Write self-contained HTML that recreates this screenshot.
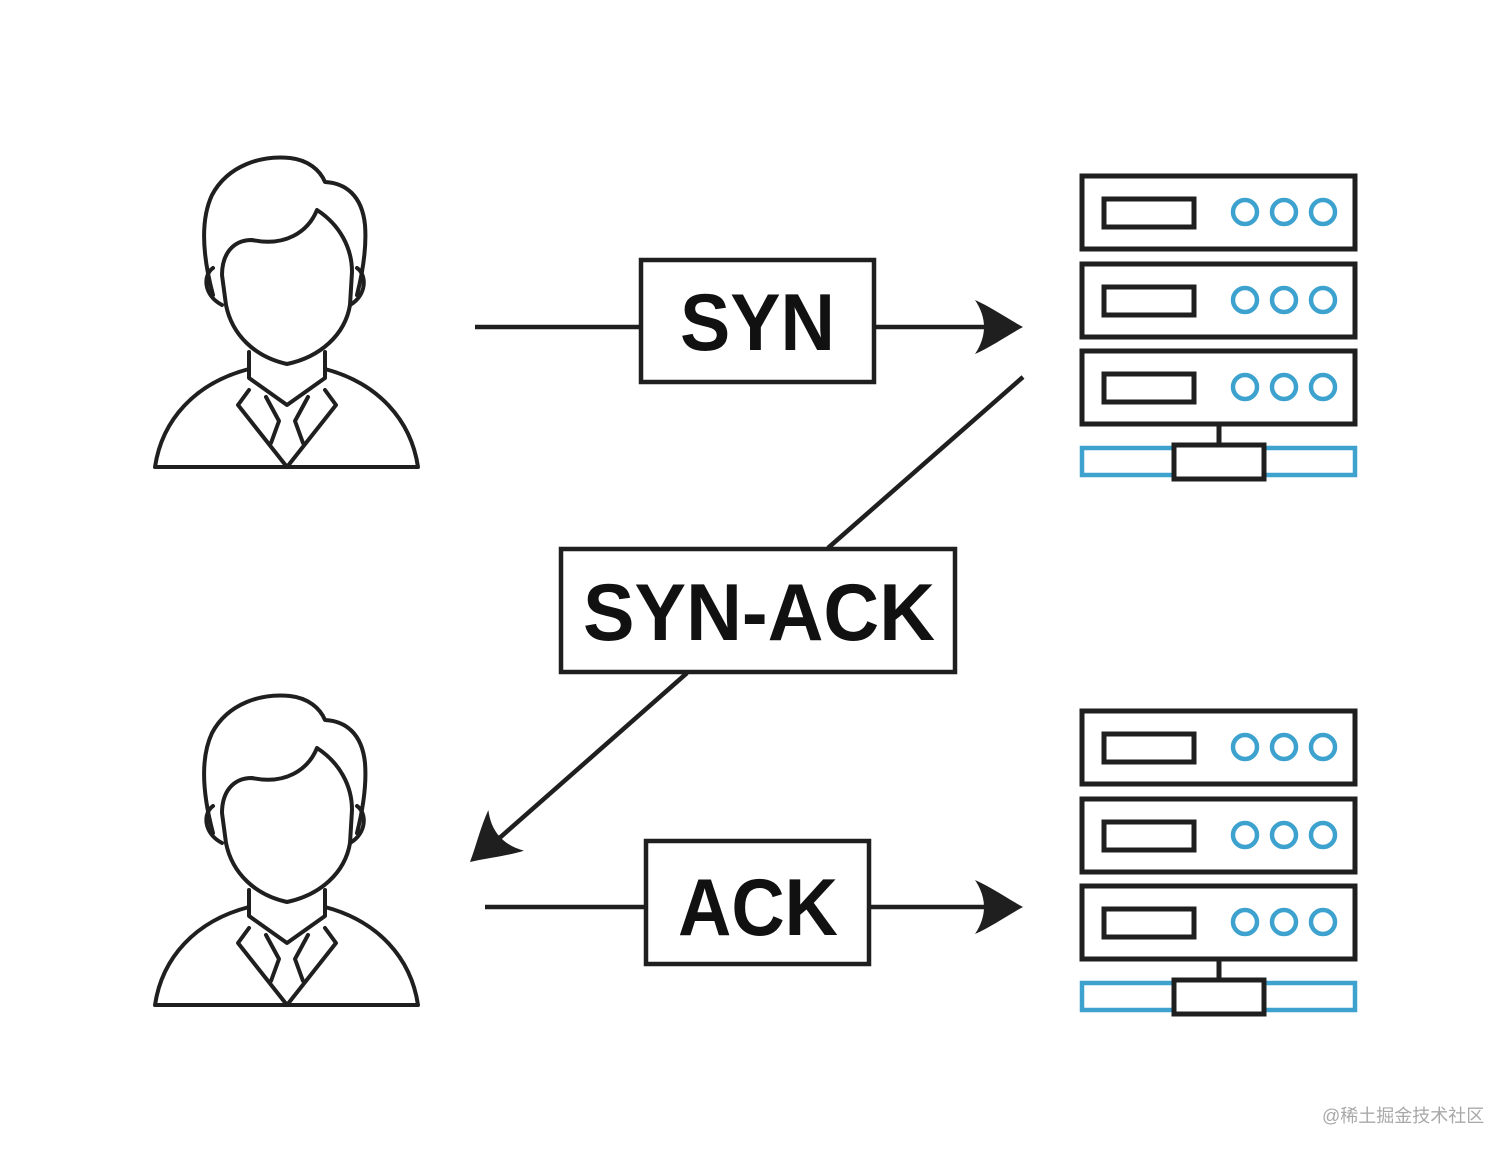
<!DOCTYPE html>
<html><head><meta charset="utf-8"><style>
html,body{margin:0;padding:0;background:#fff;}
svg{display:block;}
</style></head><body>
<svg width="1512" height="1155" viewBox="0 0 1512 1155" xmlns="http://www.w3.org/2000/svg">
<defs>
<g id="person" fill="none" stroke="#1f1f1f" stroke-width="4" stroke-linejoin="round" stroke-linecap="round">
  <!-- hair -->
  <path d="M213,295 C205,265 198,225 212,195 C228,165 262,155 290,158 C308,160 320,170 325,182 C345,183 362,195 365,225 C367,250 362,275 357,295"/>
  <!-- face -->
  <path d="M252,240 C285,247 308,232 317,210 C340,225 352,248 352,272 L350,305 C345,335 320,357 287,364 C255,357 232,335 226,305 L222,275 C222,255 232,240 252,240 Z" fill="#fff"/>
  <!-- ears -->
  <path d="M213,268 C203,275 203,295 222,305"/>
  <path d="M357,268 C367,275 367,295 350,305"/>
  <!-- neck -->
  <path d="M249,352 L249,378 L287,405 L325,378 L325,352"/>
  <!-- shoulders -->
  <path d="M249,369 C195,383 162,420 155,467 L418,467 C411,420 378,383 325,369"/>
  <!-- lapels -->
  <path d="M249,390 L238,405 L287,467 L336,405 L325,390"/>
  <!-- tie -->
  <path d="M266,397 L279,421 L271,443"/>
  <path d="M308,397 L295,421 L303,443"/>
</g>
<g id="server">
  <g fill="none" stroke="#1f1f1f" stroke-width="5">
    <rect x="1082" y="176" width="273" height="73"/>
    <rect x="1082" y="264" width="273" height="73"/>
    <rect x="1082" y="351" width="273" height="73"/>
    <rect x="1104" y="199" width="90" height="28"/>
    <rect x="1104" y="287" width="90" height="28"/>
    <rect x="1104" y="374" width="90" height="28"/>
    <line x1="1219" y1="425" x2="1219" y2="444"/>
  </g>
  <g fill="none" stroke="#3ea2cf" stroke-width="4.5">
    <circle cx="1245" cy="212" r="12"/><circle cx="1284" cy="212" r="12"/><circle cx="1323" cy="212" r="12"/>
    <circle cx="1245" cy="300" r="12"/><circle cx="1284" cy="300" r="12"/><circle cx="1323" cy="300" r="12"/>
    <circle cx="1245" cy="387" r="12"/><circle cx="1284" cy="387" r="12"/><circle cx="1323" cy="387" r="12"/>
    <rect x="1082" y="448" width="273" height="27"/>
  </g>
  <rect x="1174" y="445" width="90" height="34" fill="#fff" stroke="#1f1f1f" stroke-width="5"/>
</g>
<path id="ah" d="M0,0 C-15,-8 -32,-20 -48,-27 C-42,-18 -39,-9 -39,0 C-39,9 -42,18 -48,27 C-32,20 -15,8 0,0 Z" fill="#1f1f1f"/>
</defs>

<use href="#person"/>
<use href="#person" transform="translate(0,538)"/>
<use href="#server"/>
<use href="#server" transform="translate(0,535)"/>

<g stroke="#1f1f1f" stroke-width="4.5" fill="none">
  <line x1="475" y1="327" x2="640" y2="327"/>
  <line x1="875" y1="327" x2="990" y2="327"/>
  <line x1="485" y1="907" x2="645" y2="907"/>
  <line x1="870" y1="907" x2="990" y2="907"/>
  <line x1="1023" y1="377" x2="828" y2="548"/>
  <line x1="687" y1="673" x2="495" y2="842"/>
</g>
<use href="#ah" transform="translate(1023,327)"/>
<use href="#ah" transform="translate(1023,907)"/>
<use href="#ah" transform="translate(470,862) rotate(138.8)"/>

<g fill="#fff" stroke="#1f1f1f" stroke-width="4.5">
  <rect x="641" y="260" width="233" height="122"/>
  <rect x="561" y="549" width="394" height="123"/>
  <rect x="646" y="841" width="223" height="123"/>
</g>
<g font-family="'Liberation Sans', sans-serif" font-weight="bold" font-size="81" fill="#111">
  <text x="680" y="350" textLength="155" lengthAdjust="spacingAndGlyphs">SYN</text>
  <text x="583" y="640" textLength="352" lengthAdjust="spacingAndGlyphs">SYN-ACK</text>
  <text x="678" y="935" textLength="160" lengthAdjust="spacingAndGlyphs">ACK</text>
</g>
<text x="1322" y="1122" font-family="'Liberation Sans','Noto Sans CJK SC',sans-serif" font-size="18" fill="#a8a8a8">@稀土掘金技术社区</text>
</svg>
</body></html>
